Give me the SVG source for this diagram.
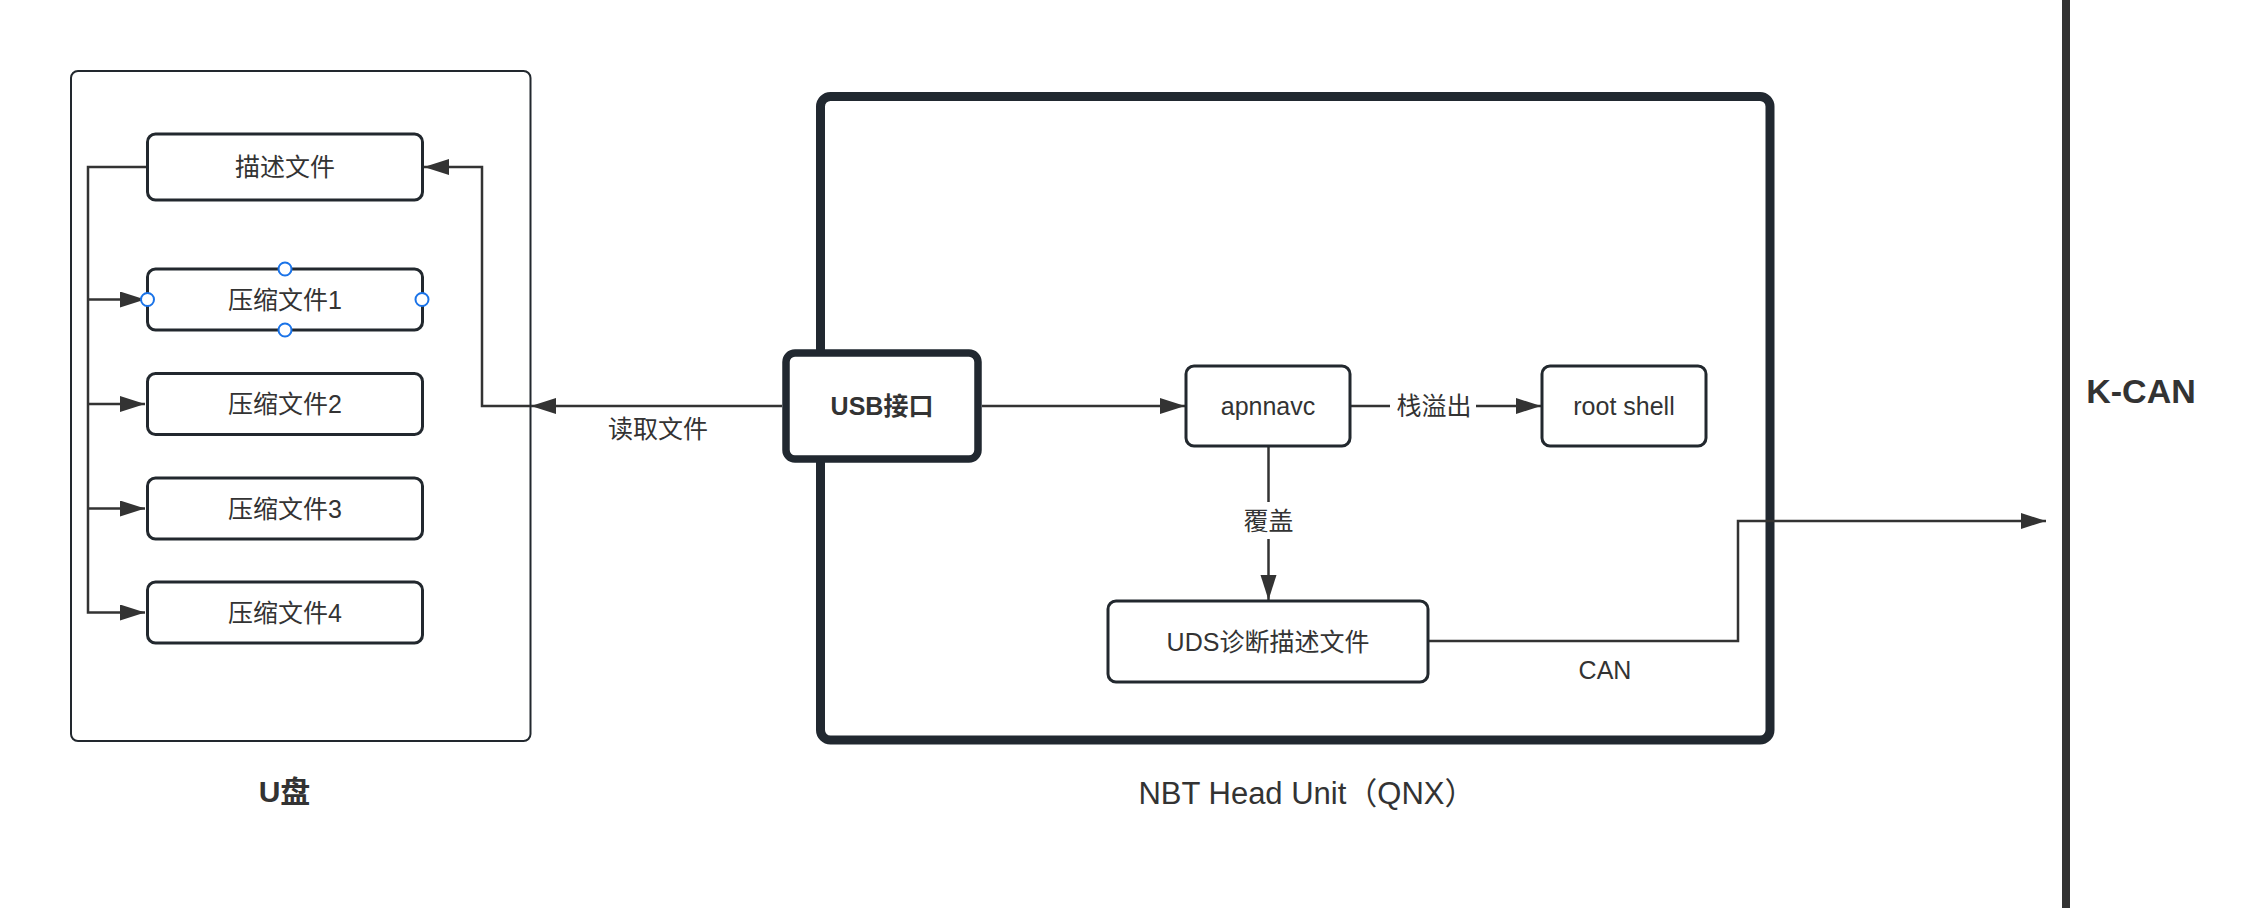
<svg xmlns="http://www.w3.org/2000/svg" width="2266" height="908" viewBox="0 0 2266 908">
<defs>
<marker id="arr" markerWidth="26" markerHeight="18" refX="25" refY="8" orient="auto" markerUnits="userSpaceOnUse">
<path d="M0,0 L25,8 L0,16 z" fill="#333333"/>
</marker>
<style>
.box{fill:#ffffff;stroke:#22282e;stroke-width:3}
.thick{fill:#ffffff;stroke:#212830;stroke-width:8}
.t{font-family:"Liberation Sans","Noto Sans CJK SC",sans-serif;font-size:25px;fill:#333333;text-anchor:middle;dominant-baseline:central}
.b{font-weight:bold}
.c{fill:none;stroke:#333333;stroke-width:2.5}
.h{fill:#ffffff;stroke:#1a73e8;stroke-width:2}
</style>
</defs>
<rect width="2266" height="908" fill="#ffffff"/>

<g id="udisk">
<rect x="71" y="71" width="459.5" height="670" rx="7" fill="#ffffff" stroke="#22282e" stroke-width="2"/>
<text class="t b" x="284.5" y="791" style="font-size:30px">U盘</text>
</g>

<g id="nbt">
<rect class="thick" x="820.5" y="96.5" width="949.5" height="643.5" rx="10" style="stroke-width:9"/>
<text class="t" x="1307" y="793" style="font-size:31px">NBT Head Unit（QNX）</text>
</g>

<g id="kcan">
<line x1="2066" y1="0" x2="2066" y2="908" stroke="#333333" stroke-width="8"/>
<text class="t b" x="2141" y="391" style="font-size:34px">K-CAN</text>
</g>

<g id="connectors">
<path class="c" d="M147,167 H88 V612.5 H145" marker-end="url(#arr)"/>
<path class="c" d="M88,299.5 H145" marker-end="url(#arr)"/>
<path class="c" d="M88,404 H145" marker-end="url(#arr)"/>
<path class="c" d="M88,508.5 H145" marker-end="url(#arr)"/>
<path class="c" d="M782,406 H531" marker-end="url(#arr)"/>
<path class="c" d="M530,406 H482 V167 H424" marker-end="url(#arr)"/>
<path class="c" d="M982,406 H1185" marker-end="url(#arr)"/>
<path class="c" d="M1350,406 H1541" marker-end="url(#arr)"/>
<path class="c" d="M1268.5,446 V600" marker-end="url(#arr)"/>
<path class="c" d="M1428,641 H1738 V521 H2046" marker-end="url(#arr)"/>
<rect x="1390" y="390" width="86" height="32" fill="#ffffff"/>
<text class="t" x="1434" y="406">栈溢出</text>
<rect x="1248" y="502" width="41" height="37" fill="#ffffff"/>
<text class="t" x="1268.5" y="521">覆盖</text>
<text class="t" x="658" y="429">读取文件</text>
<text class="t" x="1605" y="670">CAN</text>
</g>

<g id="desc">
<rect class="box" x="147.5" y="134" width="275" height="66" rx="8"/>
<text class="t" x="285" y="167">描述文件</text>
</g>
<g id="zip1">
<rect class="box" x="147.5" y="269" width="275" height="61" rx="8"/>
<text class="t" x="285" y="299.5">压缩文件1</text>
<circle class="h" cx="285" cy="269" r="6.5"/>
<circle class="h" cx="285" cy="330" r="6.5"/>
<circle class="h" cx="147.5" cy="299.5" r="6.5"/>
<circle class="h" cx="422" cy="299.5" r="6.5"/>
</g>
<g id="zip2">
<rect class="box" x="147.5" y="373.5" width="275" height="61" rx="8"/>
<text class="t" x="285" y="404">压缩文件2</text>
</g>
<g id="zip3">
<rect class="box" x="147.5" y="478" width="275" height="61" rx="8"/>
<text class="t" x="285" y="508.5">压缩文件3</text>
</g>
<g id="zip4">
<rect class="box" x="147.5" y="582" width="275" height="61" rx="8"/>
<text class="t" x="285" y="612.5">压缩文件4</text>
</g>

<g id="usb">
<rect class="thick" x="786" y="353" width="192" height="106" rx="9" style="stroke-width:7.5"/>
<text class="t b" x="882" y="406">USB接口</text>
</g>
<g id="apnnavc">
<rect class="box" x="1186" y="366" width="164" height="80" rx="8"/>
<text class="t" x="1268" y="406">apnnavc</text>
</g>
<g id="rootshell">
<rect class="box" x="1542" y="366" width="164" height="80" rx="8"/>
<text class="t" x="1624" y="406">root shell</text>
</g>
<g id="uds">
<rect class="box" x="1108" y="601" width="320" height="81" rx="8"/>
<text class="t" x="1268" y="641.5">UDS诊断描述文件</text>
</g>
</svg>
